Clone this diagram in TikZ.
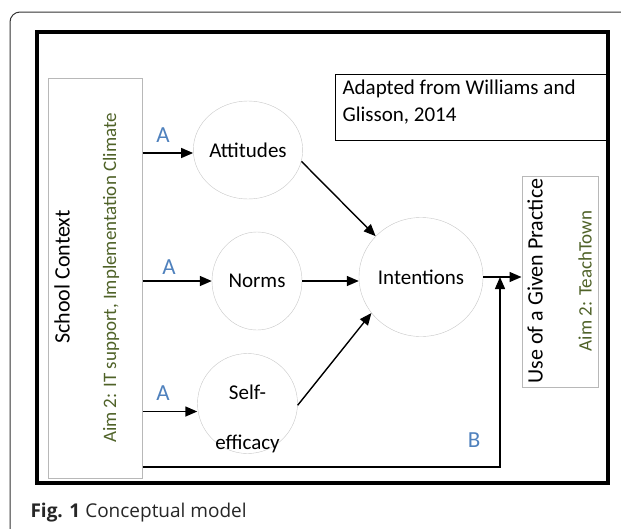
\documentclass[tikz,border=0pt]{standalone}
\usepackage{fontspec}
\setmainfont{Carlito}
\newfontfamily\capfont{Open Sans}
\usepackage{xcolor}
\usetikzlibrary{arrows.meta,shapes.geometric}
\definecolor{aimgreen}{RGB}{79,98,40}
\definecolor{ablue}{RGB}{79,129,189}

\begin{document}
\begin{tikzpicture}[%
  x=1pt, y=-1pt,
  font=\fontsize{21}{27}\selectfont,
  circ/.style={draw=black!22, ellipse, inner sep=0pt},
  gbox/.style={draw=black!28, line width=1pt, inner sep=0pt},
  arr/.style={-{Triangle[length=12pt,width=10pt]}, line width=1.4pt},
  alabel/.style={text=ablue, font=\fontsize{23}{27}\selectfont},
  aim/.style={text=aimgreen, font=\fontsize{19}{22}\selectfont}]
\clip (0,0) rectangle (621,528);
\draw[black!80, line width=1pt, rounded corners=10pt] (10,12) rectangle (660,560);
\draw[line width=4pt] (37,32) rectangle (608,483);

\node[draw, line width=1pt, inner sep=0pt, minimum width=272pt, minimum height=66pt,
  anchor=north west] (src) at (335,74) {};
\node[anchor=north west, align=left] (srctxt) at (339,76) {Adapted from Williams and\\Glisson, 2014};

\node[gbox, minimum width=94pt, minimum height=400pt] (scbox) at (95,278) {};
\node[rotate=90, font=\fontsize{22}{27}\selectfont] (sc) at (62,277) {School Context};
\node[rotate=90, aim] (scaim) at (111,278) {Aim 2: IT support, Implementation Climate};

\node[gbox, minimum width=76pt, minimum height=211pt] (use) at (560,281.5) {};
\node[rotate=90, font=\fontsize{22}{27}\selectfont] (usetxt) at (535,281) {Use of a Given Practice};
\node[rotate=90, aim] (useaim) at (585,281) {Aim 2: TeachTown};

\node[circ, minimum width=100pt, minimum height=98pt] (att) at (248,150) {Attitudes};
\node[circ, minimum width=90pt, minimum height=98pt] (norms) at (257,281) {Norms};
\node[circ, minimum width=100pt, minimum height=100pt] (self) at (247.5,403.5) {};
\node (selfa) at ([yshift=11pt]self.center) {Self-};
\node (selfb) at ([yshift=-40pt]self.center) {efficacy};
\node[circ, minimum width=124pt, minimum height=119pt] (int) at (421,277) {Intentions};

\coordinate (attin) at ([yshift=-3pt]att.west);
\coordinate (selfin) at ([yshift=-8pt]self.west);
\coordinate (bturn) at (500,467);

\draw[arr] (attin -| scbox.east) -- (attin);
\draw[arr] (norms.west -| scbox.east) -- (norms.west);
\draw[arr] (selfin -| scbox.east) -- (selfin);
\draw[arr] (att.-12) -- (int.138);
\draw[arr] (norms.east) -- (norms.east -| int.west);
\draw[arr] (self.-2) -- (int.216);
\draw[arr] (int.east) -- (int.east -| use.west);
\draw[arr] (bturn -| scbox.east) -- (bturn) -- (bturn |- int.east);

\node[alabel] (a1) at (163,135) {A};
\node[alabel] (a2) at (169,267) {A};
\node[alabel] (a3) at (163,393) {A};
\node[alabel] (b1) at (474,440) {B};

\node[anchor=base west, font=\capfont\fontsize{19}{22}\selectfont, text=black!85] (cap)
  at (27,517) {\textbf{Fig. 1} Conceptual model};
\end{tikzpicture}
\end{document}
